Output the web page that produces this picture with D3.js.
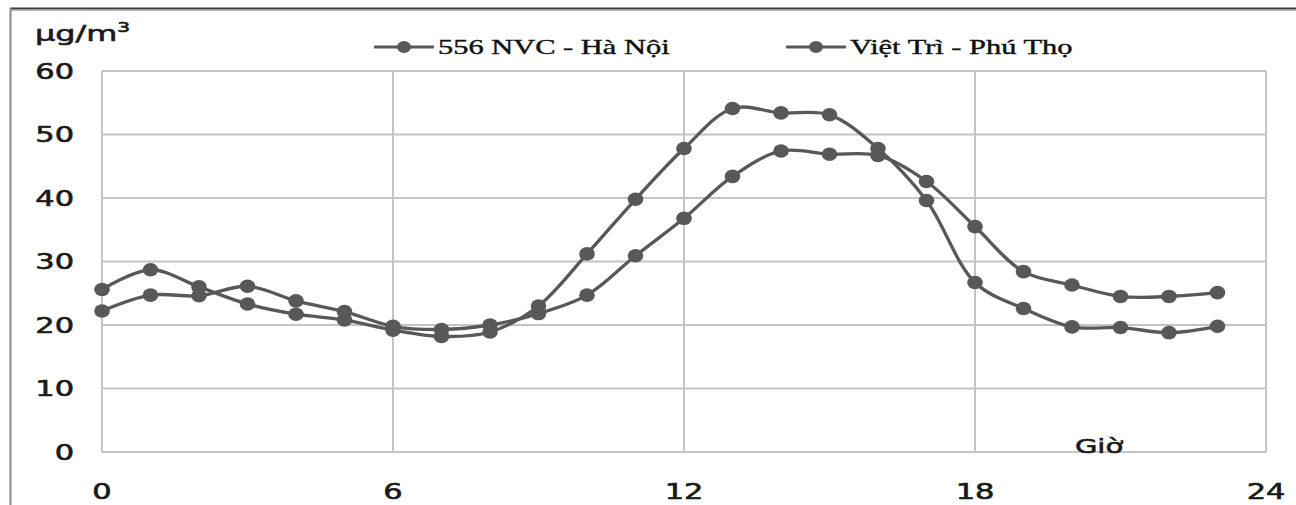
<!DOCTYPE html>
<html>
<head>
<meta charset="utf-8">
<script src="https://cdn.jsdelivr.net/npm/d3@7"></script>
<style>
  html, body { margin: 0; padding: 0; background: #fff; }
  svg { display: block; }
</style>
</head>
<body>
<svg id="chart" width="1296" height="505"></svg>
<script>
// Hourly PM concentration (µg/m³) at two monitoring stations
const hours = d3.range(0, 24);
const haNoi = [25.6, 28.7, 26.0, 23.3, 21.7, 20.8, 19.2, 18.2, 18.9, 23.0, 31.2, 39.8,
               47.8, 54.1, 53.4, 53.1, 47.8, 39.6, 26.7, 22.6, 19.7, 19.6, 18.8, 19.8];
const vietTri = [22.2, 24.7, 24.6, 26.1, 23.8, 22.1, 19.8, 19.3, 20.0, 21.8, 24.7, 30.9,
                 36.8, 43.4, 47.4, 46.9, 46.7, 42.6, 35.5, 28.4, 26.3, 24.5, 24.5, 25.1];
const seriesNames = ["556 NVC - Hà Nội", "Việt Trì - Phú Thọ"];
const xTicks = [0, 6, 12, 18, 24];
const yTicks = [0, 10, 20, 30, 40, 50, 60];

const svg = d3.select("#chart");
const ink = "#585858";
const grid = "#c4c4c4";
const SX = 1.45; // text is drawn wide

const x = d3.scaleLinear().domain([0, 24]).range([102, 1266]);
const y = d3.scaleLinear().domain([0, 60]).range([452, 71]);

function wideText(g, tx, ty, str, opts) {
  const fill = opts.fill || "#1a1a1a";
  return g.append("text")
    .attr("transform", `translate(${tx},${ty}) scale(${SX},1)`)
    .attr("text-anchor", opts.anchor || "start")
    .attr("font-family", opts.family || "DejaVu Sans, sans-serif")
    .attr("font-size", opts.size || 20)
    .attr("fill", fill)
    .attr("stroke", fill)
    .attr("stroke-width", opts.weight || 0.6)
    .text(str);
}

// outer frame (top and left edges)
svg.append("line").attr("x1", 10).attr("x2", 1296).attr("y1", 8.5).attr("y2", 8.5)
  .attr("stroke", "#3a3a3a").attr("stroke-width", 2);
svg.append("line").attr("x1", 10).attr("x2", 1296).attr("y1", 10.5).attr("y2", 10.5)
  .attr("stroke", "#bbb").attr("stroke-width", 1);
svg.append("line").attr("x1", 10.5).attr("x2", 10.5).attr("y1", 8).attr("y2", 505)
  .attr("stroke", "#8a8a8a").attr("stroke-width", 2);

// gridlines
const gridG = svg.append("g");
gridG.selectAll(".gy").data(yTicks).join("line")
  .attr("x1", x(0)).attr("x2", x(24))
  .attr("y1", d => y(d)).attr("y2", d => y(d))
  .attr("stroke", grid).attr("stroke-width", 2);
gridG.selectAll(".gx").data(xTicks).join("line")
  .attr("x1", d => x(d)).attr("x2", d => x(d))
  .attr("y1", y(0)).attr("y2", y(60))
  .attr("stroke", grid).attr("stroke-width", 2);

// axis tick labels
const labG = svg.append("g");
yTicks.forEach(v => {
  wideText(labG, 74, y(v) + 7.5, String(v), { anchor: "end", size: 21 });
});
xTicks.forEach(v => {
  wideText(labG, x(v), 499, String(v), { anchor: "middle", size: 21 });
});

// unit and axis title
const unit = wideText(labG, 35, 41, "µg/m", { size: 22 });
unit.append("tspan").attr("font-size", 14).attr("dy", -9).text("3");
wideText(labG, 1099, 453, "Giờ", { anchor: "middle", size: 20 });

// series
const line = d3.line()
  .x((d, i) => x(hours[i]))
  .y(d => y(d))
  .curve(d3.curveCatmullRom.alpha(0.5));

[haNoi, vietTri].forEach(vals => {
  const g = svg.append("g");
  g.append("path").attr("d", line(vals))
    .attr("fill", "none").attr("stroke", ink).attr("stroke-width", 3.3);
  g.selectAll("ellipse").data(vals).join("ellipse")
    .attr("cx", (d, i) => x(hours[i])).attr("cy", d => y(d))
    .attr("rx", 7.8).attr("ry", 6.8).attr("fill", ink);
});

// legend
const legend = svg.append("g");
const legendItems = [
  { name: seriesNames[0], x0: 374 },
  { name: seriesNames[1], x0: 786 }
];
legendItems.forEach(it => {
  legend.append("line").attr("x1", it.x0).attr("x2", it.x0 + 60)
    .attr("y1", 47).attr("y2", 47).attr("stroke", ink).attr("stroke-width", 3);
  legend.append("ellipse").attr("cx", it.x0 + 30).attr("cy", 47)
    .attr("rx", 7).attr("ry", 6).attr("fill", ink);
  wideText(legend, it.x0 + 64, 54, it.name,
    { family: "Liberation Serif, Times New Roman, serif", size: 21, fill: "#111", weight: 0.4 });
});
</script>
</body>
</html>
